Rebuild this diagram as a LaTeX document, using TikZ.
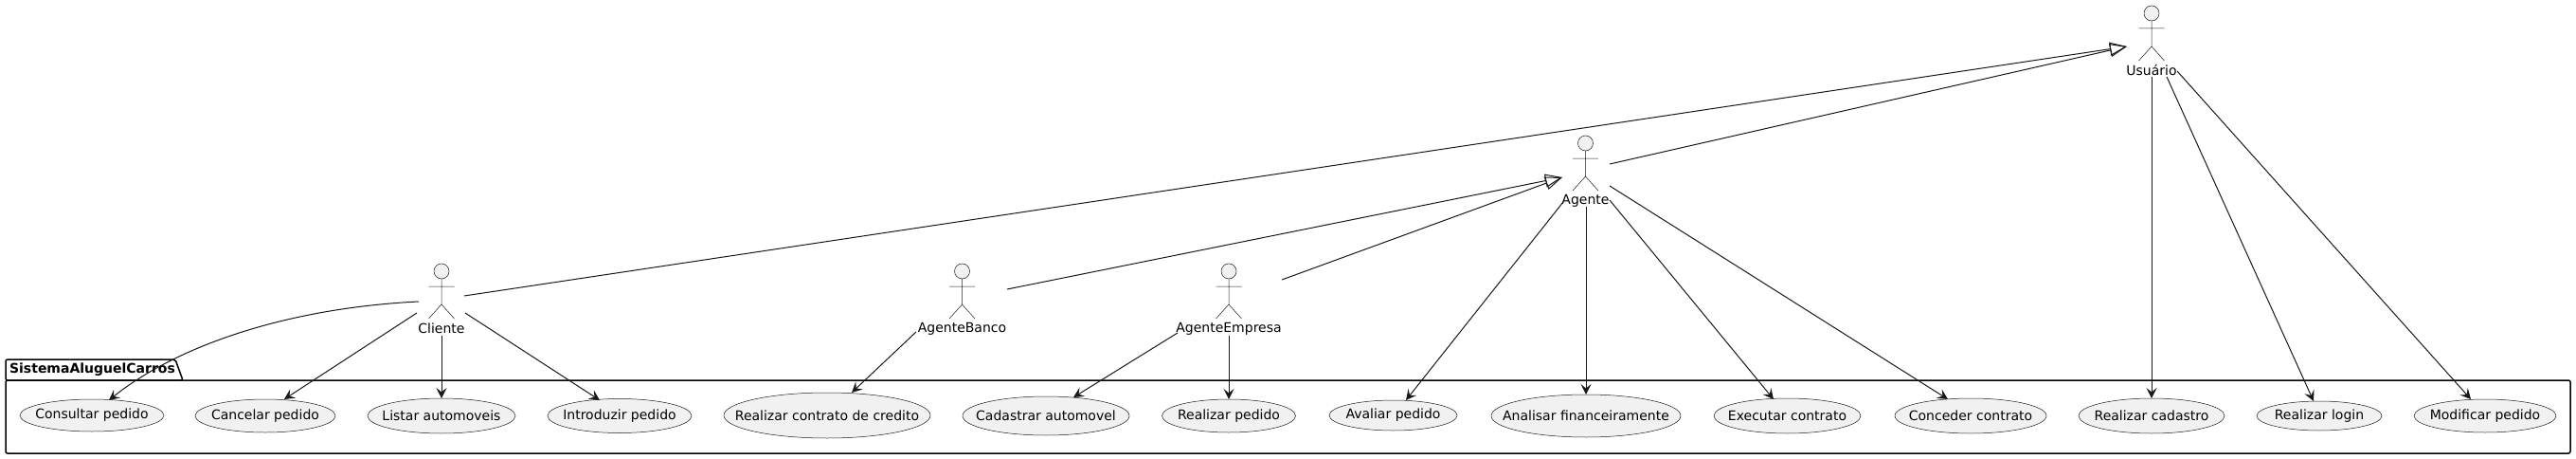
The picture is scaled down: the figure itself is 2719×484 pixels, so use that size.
\documentclass[tikz,border=0pt]{standalone}
\usepackage{fontspec}
\setmainfont{DejaVu Sans}
\usetikzlibrary{shapes.geometric,arrows.meta}
\definecolor{ink}{HTML}{181818}
\definecolor{pale}{HTML}{F1F1F1}
\tikzset{
  x=1pt,y=-1pt,
  case/.style={ellipse,draw=ink,fill=pale,line width=0.5pt,inner sep=0pt},
  casetext/.style={inner sep=0pt,font=\fontsize{14}{14}\selectfont,text=black},
  actorbox/.style={rectangle,inner sep=0pt,minimum width=48pt,minimum height=76pt},
  actorline/.style={draw=ink,line width=0.5pt},
  actorname/.style={inner sep=0pt,font=\fontsize{14}{14}\selectfont,text=black},
  uses/.style={draw=ink,line width=1pt,-{Stealth[length=11pt,width=11pt,inset=4.5pt,fill=ink]}},
  inherits/.style={draw=ink,line width=1pt,-{Triangle[open,length=18pt,width=14pt,fill=none]}},
  pkg/.style={draw=black,line width=1.5pt,rounded corners=2pt},
}
\newcommand{\umlactor}[4]{% name, x, head top, label
  \node[actorbox] (#1) at (#2,#3+38) {};
  \draw[actorline,fill=pale] (#2,#3+8) circle (8);
  \draw[actorline] (#2,#3+16) -- (#2,#3+43) (#2-13.5,#3+24) -- (#2+13.5,#3+24)
    (#2-13.5,#3+58) -- (#2,#3+43) -- (#2+13.5,#3+58);
  \node[actorname] (#1-label) at (#2,#3+68.5) {#4};
}
\newcommand{\usecase}[6]{% name, x, y, w, h, text
  \node[case,minimum width=#4pt,minimum height=#5pt,label={[casetext]center:#6}] (#1) at (#2,#3) {};
}
\begin{document}
\begin{tikzpicture}
\useasboundingbox (0,0) rectangle (2719,484);
% package
\draw[pkg] (6,401) -- (6,379) -- (185,379) -- (193,401) -- cycle;
\draw[pkg] (6,401) -- (2713,401) -- (2713,478) -- (6,478) -- cycle;
\node[inner sep=0pt,font=\fontsize{14}{14}\selectfont\bfseries] (pkgname) at (97.5,390) {SistemaAluguelCarros};
% use cases
\usecase{consultar}{97}{438}{152}{34}{Consultar pedido}
\usecase{cancelar}{280}{438.5}{148}{35}{Cancelar pedido}
\usecase{listar}{466}{438.5}{156}{37}{Listar automoveis}
\usecase{introduzir}{654}{438.5}{152}{36}{Introduzir pedido}
\usecase{contrato}{873}{438}{218}{48}{Realizar contrato de credito}
\usecase{cadastrar}{1104}{438.5}{176}{41}{Cadastrar automovel}
\usecase{realizar}{1297}{438.5}{141}{35}{Realizar pedido}
\usecase{avaliar}{1470.5}{438}{135}{32}{Avaliar pedido}
\usecase{analisar}{1674}{438.5}{200}{45}{Analisar financeiramente}
\usecase{executar}{1886.5}{438.5}{155}{37}{Executar contrato}
\usecase{conceder}{2080}{438.5}{160}{37}{Conceder contrato}
\usecase{cadastro}{2271}{438.5}{154}{37}{Realizar cadastro}
\usecase{login}{2448}{438.5}{132}{31}{Realizar login}
\usecase{modificar}{2623}{438.5}{150}{35}{Modificar pedido}
% actors
\umlactor{usuario}{2271}{6}{Usuário}
\umlactor{agente}{1673.5}{143}{Agente}
\umlactor{cliente}{466}{278}{Cliente}
\umlactor{banco}{1015.5}{278}{AgenteBanco}
\umlactor{empresa}{1297}{278}{AgenteEmpresa}
% generalisations
\draw[inherits] ([shift={(24,-4)}]cliente.center) -- ([shift={(-26,5)}]usuario.center);
\draw[inherits] ([shift={(25.5,-8)}]agente.center) -- ([shift={(-26,5)}]usuario.center);
\draw[inherits] ([shift={(47.5,-11)}]banco.center) -- ([shift={(-24.5,6)}]agente.center);
\draw[inherits] ([shift={(56,-21)}]empresa.center) -- ([shift={(-24.5,6)}]agente.center);
% associations
\draw[uses] ([shift={(-24,2)}]cliente.center) .. controls +(-142,7) and +(70,-56) .. ([shift={(18,-16)}]consultar.center);
\draw[uses] ([shift={(-26,14)}]cliente.center) -- ([shift={(20,-17.5)}]cancelar.center);
\draw[uses] ([shift={(0,38)}]cliente.center) -- ([shift={(0,-18.5)}]listar.center);
\draw[uses] ([shift={(25,14)}]cliente.center) -- ([shift={(-21,-16.5)}]introduzir.center);
\draw[uses] ([shift={(-48.5,34)}]banco.center) -- ([shift={(26,-24)}]contrato.center);
\draw[uses] ([shift={(-54,35)}]empresa.center) -- ([shift={(29,-19.5)}]cadastrar.center);
\draw[uses] ([shift={(0,38)}]empresa.center) -- ([shift={(0,-17.5)}]realizar.center);
\draw[uses] ([shift={(-23.5,32)}]agente.center) -- ([shift={(13.5,-16)}]avaliar.center);
\draw[uses] ([shift={(0.5,37)}]agente.center) -- ([shift={(0,-22.5)}]analisar.center);
\draw[uses] ([shift={(25.5,30)}]agente.center) -- ([shift={(-14.5,-17.5)}]executar.center);
\draw[uses] ([shift={(25.5,15)}]agente.center) -- ([shift={(-24,-17.5)}]conceder.center);
\draw[uses] ([shift={(0,37)}]usuario.center) -- ([shift={(0,-18.5)}]cadastro.center);
\draw[uses] ([shift={(16,37)}]usuario.center) -- ([shift={(-6,-15.5)}]login.center);
\draw[uses] ([shift={(27,31)}]usuario.center) -- ([shift={(-15,-17.5)}]modificar.center);
\end{tikzpicture}
\end{document}
